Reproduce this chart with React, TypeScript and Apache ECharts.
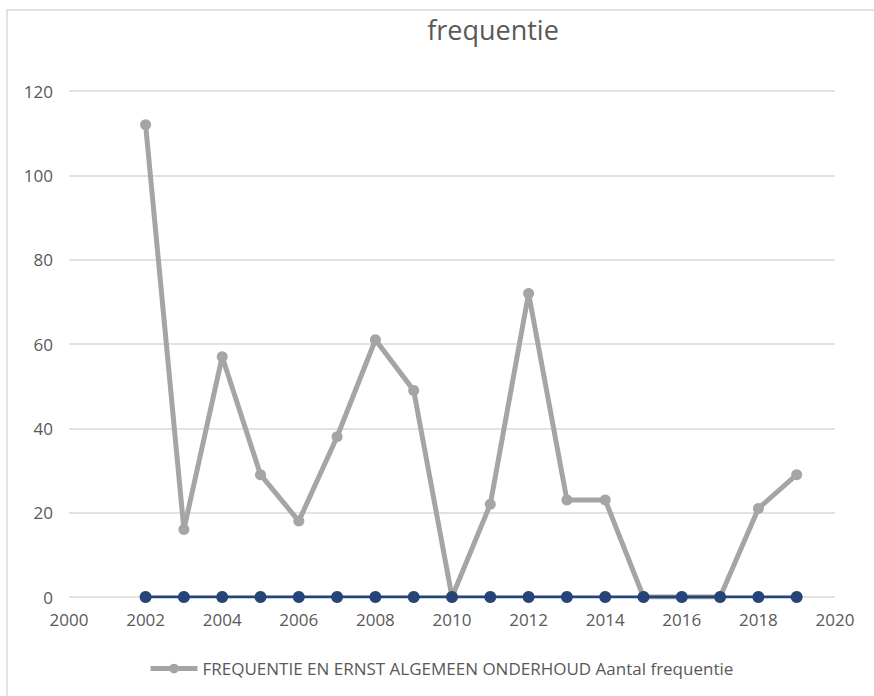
import React, { useEffect, useRef } from "react";
import * as echarts from "echarts";

const years = [2002, 2003, 2004, 2005, 2006, 2007, 2008, 2009, 2010, 2011, 2012, 2013, 2014, 2015, 2016, 2017, 2018, 2019];
const frequentie = [112, 16, 57, 29, 18, 38, 61, 49, 0, 22, 72, 23, 23, 0, 0, 0, 21, 29];
const ernst = [0, 0, 0, 0, 0, 0, 0, 0, 0, 0, 0, 0, 0, 0, 0, 0, 0, 0];
const titleText = "frequentie";
const legendName = "FREQUENTIE EN ERNST ALGEMEEN ONDERHOUD Aantal frequentie";
const ernstName = "FREQUENTIE EN ERNST ALGEMEEN ONDERHOUD Aantal ernst";

const FONT = "'Open Sans', sans-serif";

export default function App() {
  const ref = useRef<HTMLDivElement>(null);
  useEffect(() => {
    document.body.style.margin = "0";
    const chart = echarts.init(ref.current!, undefined, { renderer: "svg" });
    chart.setOption({
      animation: false,
      backgroundColor: "#ffffff",
      textStyle: { fontFamily: FONT },
      title: {
        text: titleText,
        left: 488,
        top: 11,
        textAlign: "center",
        textStyle: { fontFamily: FONT, fontSize: 27, fontWeight: "normal", color: "#595959" },
      },
      graphic: [
        {
          type: "rect",
          shape: { x: 7, y: 10, width: 900, height: 720 },
          style: { fill: "none", stroke: "#d9d9d9", lineWidth: 1.5 },
          silent: true,
          z: -10,
        },
      ],
      legend: {
        data: [legendName],
        left: 143,
        top: 655,
        itemWidth: 47,
        itemHeight: 12,
        lineStyle: { width: 5 },
        textStyle: { fontFamily: FONT, fontSize: 17, color: "#595959" },
      },
      grid: { left: 69, right: 39, top: 91, bottom: 99, containLabel: false },
      xAxis: {
        type: "value",
        min: 2000,
        max: 2020,
        interval: 2,
        axisLine: { show: false },
        axisTick: { show: false },
        splitLine: { show: false },
        axisLabel: {
          color: "#595959",
          fontFamily: FONT,
          fontSize: 17,
          margin: 14,
          formatter: (v: number) => String(v),
        },
      },
      yAxis: {
        type: "value",
        min: 0,
        max: 120,
        interval: 20,
        axisLine: { show: false },
        axisTick: { show: false },
        splitLine: { show: true, lineStyle: { color: "#d9d9d9", width: 1.5 } },
        axisLabel: { color: "#595959", fontFamily: FONT, fontSize: 17, margin: 16 },
      },
      series: [
        {
          name: legendName,
          type: "line",
          data: years.map((y, i) => [y, frequentie[i]]),
          symbol: "circle",
          symbolSize: 11,
          lineStyle: { color: "#a5a5a5", width: 5 },
          itemStyle: { color: "#a5a5a5" },
          z: 2,
        },
        {
          name: ernstName,
          type: "line",
          data: years.map((y, i) => [y, ernst[i]]),
          symbol: "circle",
          symbolSize: 12,
          lineStyle: { color: "#264478", width: 3 },
          itemStyle: { color: "#264478" },
          z: 3,
        },
      ],
    });
    return () => chart.dispose();
  }, []);
  return <div ref={ref} style={{ width: 874, height: 696 }} />;
}
